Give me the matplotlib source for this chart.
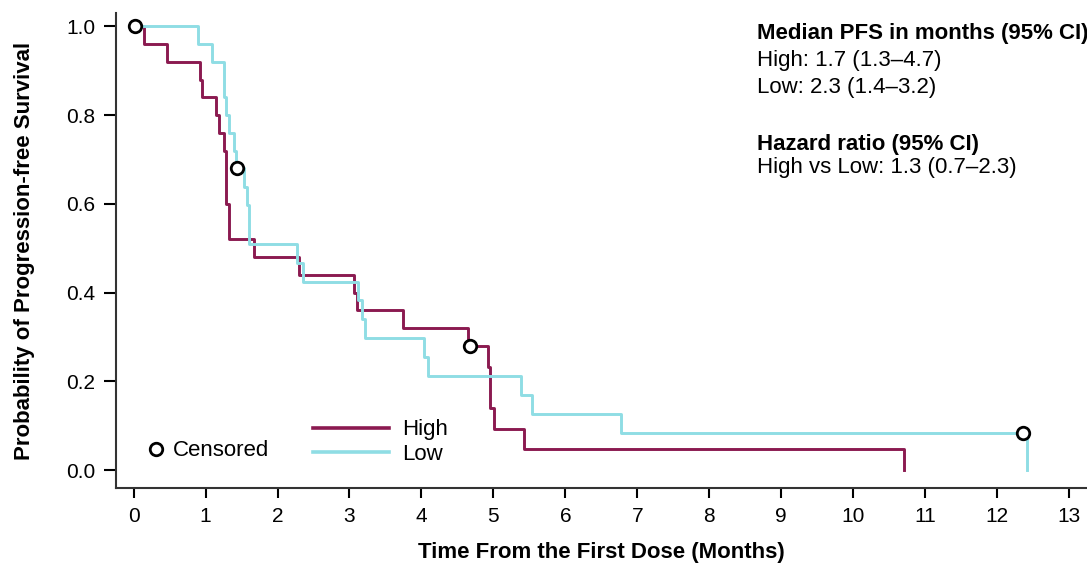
import matplotlib.pyplot as plt
from matplotlib.lines import Line2D

plt.rcParams['font.family'] = ['Liberation Sans', 'DejaVu Sans']

# ── Data ─────────────────────────────────────────────────────
high_t = [0, 0.15, 0.46, 0.92, 0.95, 1.15, 1.18, 1.25, 1.29, 1.32, 1.67,
          2.30, 3.06, 3.11, 3.74, 4.65, 4.92, 4.95, 5.01, 5.42, 10.71]
high_s = [1.0, 0.96, 0.92, 0.88, 0.84, 0.80, 0.76, 0.72, 0.60, 0.52, 0.48,
          0.44, 0.40, 0.36, 0.32, 0.28, 0.233, 0.14, 0.093, 0.047, 0.0]

low_t = [0, 0.89, 1.09, 1.25, 1.29, 1.32, 1.39, 1.42, 1.54, 1.58, 1.60,
         2.27, 2.35, 3.12, 3.18, 3.21, 4.04, 4.09, 5.38, 5.54, 6.78, 12.41]
low_s = [1.0, 0.96, 0.92, 0.84, 0.80, 0.76, 0.72, 0.68, 0.6375, 0.5975, 0.51,
         0.4675, 0.425, 0.3825, 0.34, 0.2975, 0.255, 0.2125, 0.17, 0.1275, 0.085, 0.0]

censor_t = [0.02, 1.44, 4.67, 12.36]
censor_s = [1.0, 0.68, 0.28, 0.085]

x_ticks = list(range(0, 14))
y_ticks = [0.0, 0.2, 0.4, 0.6, 0.8, 1.0]

HIGH_COLOR = "#8B1A50"
LOW_COLOR = "#8FDDE4"
AX_COLOR = "#333333"

W, H = 1087, 567
fig = plt.figure(figsize=(W / 100, H / 100), dpi=100)
ax = fig.add_axes([0.1067, 0.1393, 0.8933, 0.8377])

ax.step(high_t, high_s, where="post", color=HIGH_COLOR, lw=2.1)
ax.step(low_t, low_s, where="post", color=LOW_COLOR, lw=2.1)
ax.plot(censor_t, censor_s, "o", ms=9, mfc="white", mec="black", mew=2.0,
        zorder=5, linestyle="none")

ax.set_xlim(-0.245, 13.25)
ax.set_ylim(-0.04, 1.03)
ax.set_xticks(x_ticks)
ax.set_yticks(y_ticks)
ax.set_yticklabels([f"{v:.1f}" for v in y_ticks])

for side in ("top", "right"):
    ax.spines[side].set_visible(False)
for side in ("left", "bottom"):
    ax.spines[side].set_color(AX_COLOR)
    ax.spines[side].set_linewidth(1.5)

ax.tick_params(axis="both", labelsize=15, colors="black", width=1.5,
               length=7, pad=7)
ax.tick_params(axis="y", length=9, pad=6)

ax.set_xlabel("Time From the First Dose (Months)", fontsize=16,
              fontweight="bold", labelpad=11)
ax.set_ylabel("Probability of Progression-free Survival", fontsize=16,
              fontweight="bold", labelpad=22)

# Legends (positioned in figure pixels)
cens_handle = Line2D([], [], marker="o", ls="none", ms=9, mfc="white",
                     mec="black", mew=2.0)
leg1 = ax.legend([cens_handle], ["Censored"], loc="center left",
                 bbox_to_anchor=(145 / W, 1 - 451 / H),
                 bbox_transform=fig.transFigure, frameon=False, fontsize=16,
                 handlelength=1.0, handletextpad=0.25, borderpad=0,
                 borderaxespad=0)
ax.add_artist(leg1)
line_handles = [Line2D([], [], color=HIGH_COLOR, lw=2.6),
                Line2D([], [], color=LOW_COLOR, lw=2.6)]
ax.legend(line_handles, ["High", "Low"], loc="center left",
          bbox_to_anchor=(313 / W, 1 - 442 / H),
          bbox_transform=fig.transFigure, frameon=False, fontsize=16,
          handlelength=3.4, handletextpad=0.6, labelspacing=0.15,
          borderpad=0, borderaxespad=0)

# Summary text
tx = 757 / W
fig.text(tx, 1 - 33 / H, "Median PFS in months (95% CI)", fontsize=16,
         fontweight="bold", va="center")
fig.text(tx, 1 - 61 / H, "High: 1.7 (1.3\u20134.7)", fontsize=16, va="center")
fig.text(tx, 1 - 88 / H, "Low: 2.3 (1.4\u20133.2)", fontsize=16, va="center")
fig.text(tx, 1 - 145 / H, "Hazard ratio (95% CI)", fontsize=16,
         fontweight="bold", va="center")
fig.text(tx, 1 - 167 / H, "High vs Low: 1.3 (0.7\u20132.3)", fontsize=16,
         va="center")

fig.savefig("out.png", dpi=100)
